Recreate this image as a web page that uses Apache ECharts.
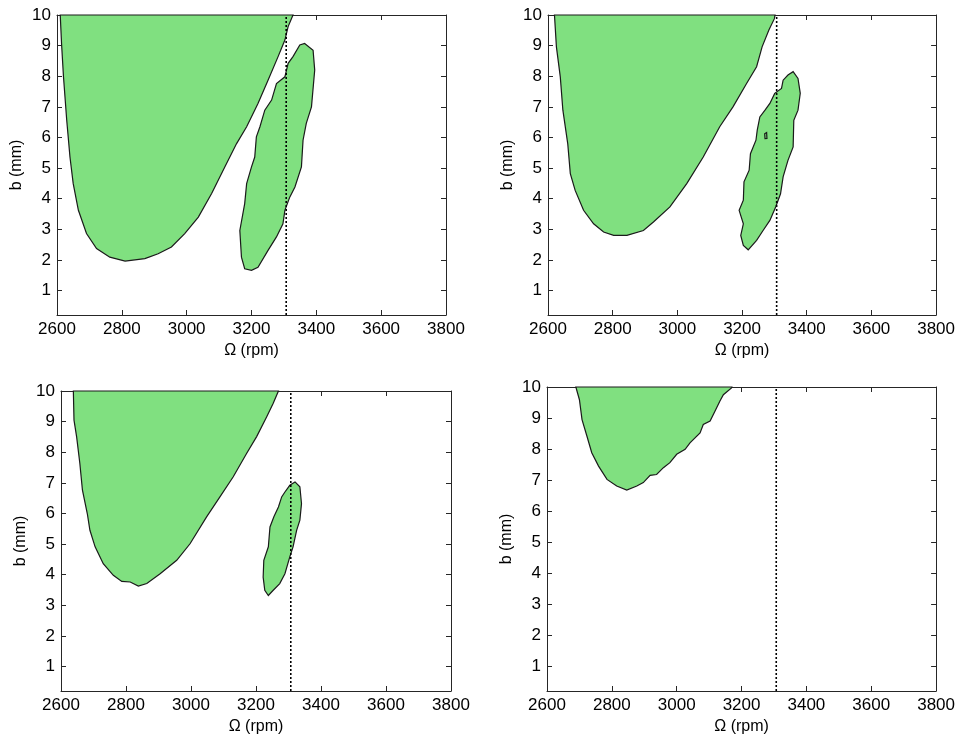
<!DOCTYPE html>
<html>
<head>
<meta charset="utf-8">
<script src="https://cdn.jsdelivr.net/npm/echarts@6/dist/echarts.min.js"></script>
<style>
html,body{margin:0;padding:0;background:#fff;}
#chart{width:958px;height:736px;}
</style>
</head>
<body>
<div id="chart"></div>
<script>
// ---- data (Ω in rpm, b in mm) ----
const xTitle = 'Ω (rpm)';
const yTitle = 'b (mm)';
const xMin = 2600, xMax = 3800, xStep = 200;
const yMin = 0.2, yMax = 10;
const yTicks = [1, 2, 3, 4, 5, 6, 7, 8, 9, 10];
const spindleSpeed = 3307; // dotted vertical line
const vLine = [[spindleSpeed, 0.2], [spindleSpeed, 10]];

const p1Main = [[2610,10],[2614,9.07],[2620,7.98],[2630,6.56],[2640,5.36],[2650,4.49],[2666,3.62],[2691,2.86],[2722,2.37],[2763,2.09],[2810,1.96],[2871,2.04],[2912,2.2],[2953,2.42],[2994,2.86],[3036,3.4],[3077,4.17],[3118,5.04],[3154,5.8],[3185,6.35],[3220,7.11],[3251,7.87],[3282,8.64],[3303,9.18],[3313,9.62],[3328,10]];
const p1Island = [[3364,9.07],[3390,8.85],[3395,8.2],[3385,7.0],[3369,6.46],[3359,5.91],[3354,5.04],[3334,4.38],[3318,4.05],[3303,3.62],[3297,3.18],[3277,2.75],[3251,2.31],[3220,1.76],[3200,1.66],[3179,1.71],[3169,2.09],[3164,2.96],[3179,3.84],[3185,4.49],[3200,5.04],[3210,5.36],[3215,6.02],[3226,6.35],[3241,6.89],[3262,7.22],[3277,7.76],[3303,7.98],[3313,8.42],[3328,8.64],[3349,9.02]];

const p2Main = [[2620,10],[2626,8.96],[2638,7.98],[2646,6.89],[2661,5.8],[2669,4.82],[2684,4.27],[2710,3.62],[2741,3.18],[2772,2.91],[2803,2.8],[2844,2.8],[2895,2.96],[2926,3.24],[2977,3.73],[3029,4.49],[3080,5.36],[3131,6.35],[3172,7.0],[3214,7.76],[3245,8.31],[3262,8.96],[3283,9.51],[3300,9.88],[3302,10]];
const p2Island = [[3358,8.15],[3373,7.93],[3380,7.44],[3373,6.89],[3360,6.56],[3358,5.69],[3342,5.25],[3327,4.71],[3319,4.16],[3304,3.73],[3286,3.29],[3265,2.96],[3245,2.64],[3219,2.33],[3204,2.47],[3196,2.8],[3204,3.18],[3191,3.62],[3204,3.95],[3206,4.55],[3222,4.93],[3226,5.47],[3243,5.91],[3247,6.24],[3255,6.67],[3271,6.89],[3286,7.11],[3301,7.44],[3322,7.6],[3327,7.87],[3342,8.04]];
const p2Hole = [[3270,6.12],[3276,6.16],[3277,5.97],[3271,5.96]];

const p3Main = [[2638,10],[2640,9.05],[2648,8.51],[2658,7.63],[2666,6.76],[2681,5.99],[2689,5.45],[2705,4.91],[2730,4.36],[2761,3.98],[2787,3.78],[2813,3.76],[2838,3.63],[2864,3.71],[2905,4.03],[2956,4.47],[2997,5.01],[3048,5.89],[3089,6.54],[3130,7.2],[3171,7.96],[3202,8.51],[3233,9.16],[3253,9.6],[3269,10]];
const p3Island = [[3320,7.03],[3335,6.87],[3340,6.32],[3335,5.78],[3325,5.45],[3314,4.91],[3304,4.58],[3289,4.03],[3273,3.71],[3253,3.49],[3238,3.32],[3227,3.49],[3222,3.92],[3224,4.47],[3238,4.91],[3243,5.56],[3255,5.89],[3269,6.21],[3279,6.54],[3289,6.7],[3304,6.92]];

const p4Main = [[2689,10],[2700,9.59],[2708,8.95],[2723,8.42],[2738,7.88],[2759,7.45],[2785,7.02],[2815,6.81],[2846,6.68],[2877,6.81],[2897,6.92],[2918,7.15],[2938,7.18],[2959,7.4],[2979,7.56],[3000,7.83],[3026,7.99],[3041,8.2],[3072,8.52],[3082,8.79],[3103,8.9],[3118,9.22],[3133,9.54],[3144,9.75],[3169,9.97],[3170,10]];

const panels = [
  { shapes: [p1Main, p1Island] },
  { shapes: [p2Main, p2Island, p2Hole] },
  { shapes: [p3Main, p3Island] },
  { shapes: [p4Main] }
];

// ---- layout / style ----
const grids = [
  { left: 57, top: 15, width: 389, height: 300 },
  { left: 548, top: 15, width: 389, height: 300 },
  { left: 61, top: 391, width: 390, height: 300 },
  { left: 547, top: 387, width: 390, height: 305 }
];
const GREEN = '#80e080';
const FONT = 'Liberation Sans, Arial, sans-serif';
const lineCol = '#262626';

const xAxes = [], yAxes = [], series = [];
grids.forEach((g, i) => {
  xAxes.push({
    gridIndex: i, type: 'value', min: xMin, max: xMax, interval: xStep, position: 'bottom',
    name: xTitle, nameLocation: 'middle', nameGap: 28,
    nameTextStyle: { fontFamily: FONT, fontSize: 16, color: '#000' },
    axisLine: { show: true, onZero: false, lineStyle: { color: lineCol, width: 1 } },
    axisTick: { show: true, inside: true, length: 5, lineStyle: { color: lineCol } },
    axisLabel: { fontFamily: FONT, fontSize: 17, color: '#000', margin: 6, formatter: v => String(v) },
    splitLine: { show: false }
  });
  xAxes.push({
    gridIndex: i, type: 'value', min: xMin, max: xMax, interval: xStep, position: 'top',
    axisLine: { show: true, onZero: false, lineStyle: { color: lineCol, width: 1 } },
    axisTick: { show: true, inside: true, length: 5, lineStyle: { color: lineCol } },
    axisLabel: { show: false }, splitLine: { show: false }
  });
  yAxes.push({
    gridIndex: i, type: 'value', min: yMin, max: yMax, position: 'left',
    name: yTitle, nameLocation: 'middle', nameGap: 32,
    nameTextStyle: { fontFamily: FONT, fontSize: 16, color: '#000' },
    axisLine: { show: true, onZero: false, lineStyle: { color: lineCol, width: 1 } },
    axisTick: { show: true, inside: true, length: 5, customValues: yTicks, lineStyle: { color: lineCol } },
    axisLabel: { fontFamily: FONT, fontSize: 17, color: '#000', margin: 6, customValues: yTicks },
    splitLine: { show: false }
  });
  yAxes.push({
    gridIndex: i, type: 'value', min: yMin, max: yMax, position: 'right',
    axisLine: { show: true, onZero: false, lineStyle: { color: lineCol, width: 1 } },
    axisTick: { show: true, inside: true, length: 5, customValues: yTicks, lineStyle: { color: lineCol } },
    axisLabel: { show: false, customValues: yTicks }, splitLine: { show: false }
  });

  panels[i].shapes.forEach(pts => {
    series.push({
      type: 'custom', xAxisIndex: 2 * i, yAxisIndex: 2 * i, data: pts, silent: true, z: 2,
      renderItem: (params, api) => {
        if (params.dataIndex !== 0) return null;
        return {
          type: 'polygon',
          shape: { points: pts.map(p => api.coord(p)) },
          style: { fill: GREEN, stroke: '#1a1a1a', lineWidth: 1.2 }
        };
      }
    });
  });
  series.push({
    type: 'line', xAxisIndex: 2 * i, yAxisIndex: 2 * i, data: vLine, symbol: 'none', silent: true, z: 5,
    lineStyle: { color: '#000', type: [2, 2], width: 1.6 }
  });
});

const chart = echarts.init(document.getElementById('chart'), null, { renderer: 'canvas' });
chart.setOption({
  animation: false,
  backgroundColor: '#fff',
  grid: grids,
  xAxis: xAxes,
  yAxis: yAxes,
  series: series
});
</script>
</body>
</html>
